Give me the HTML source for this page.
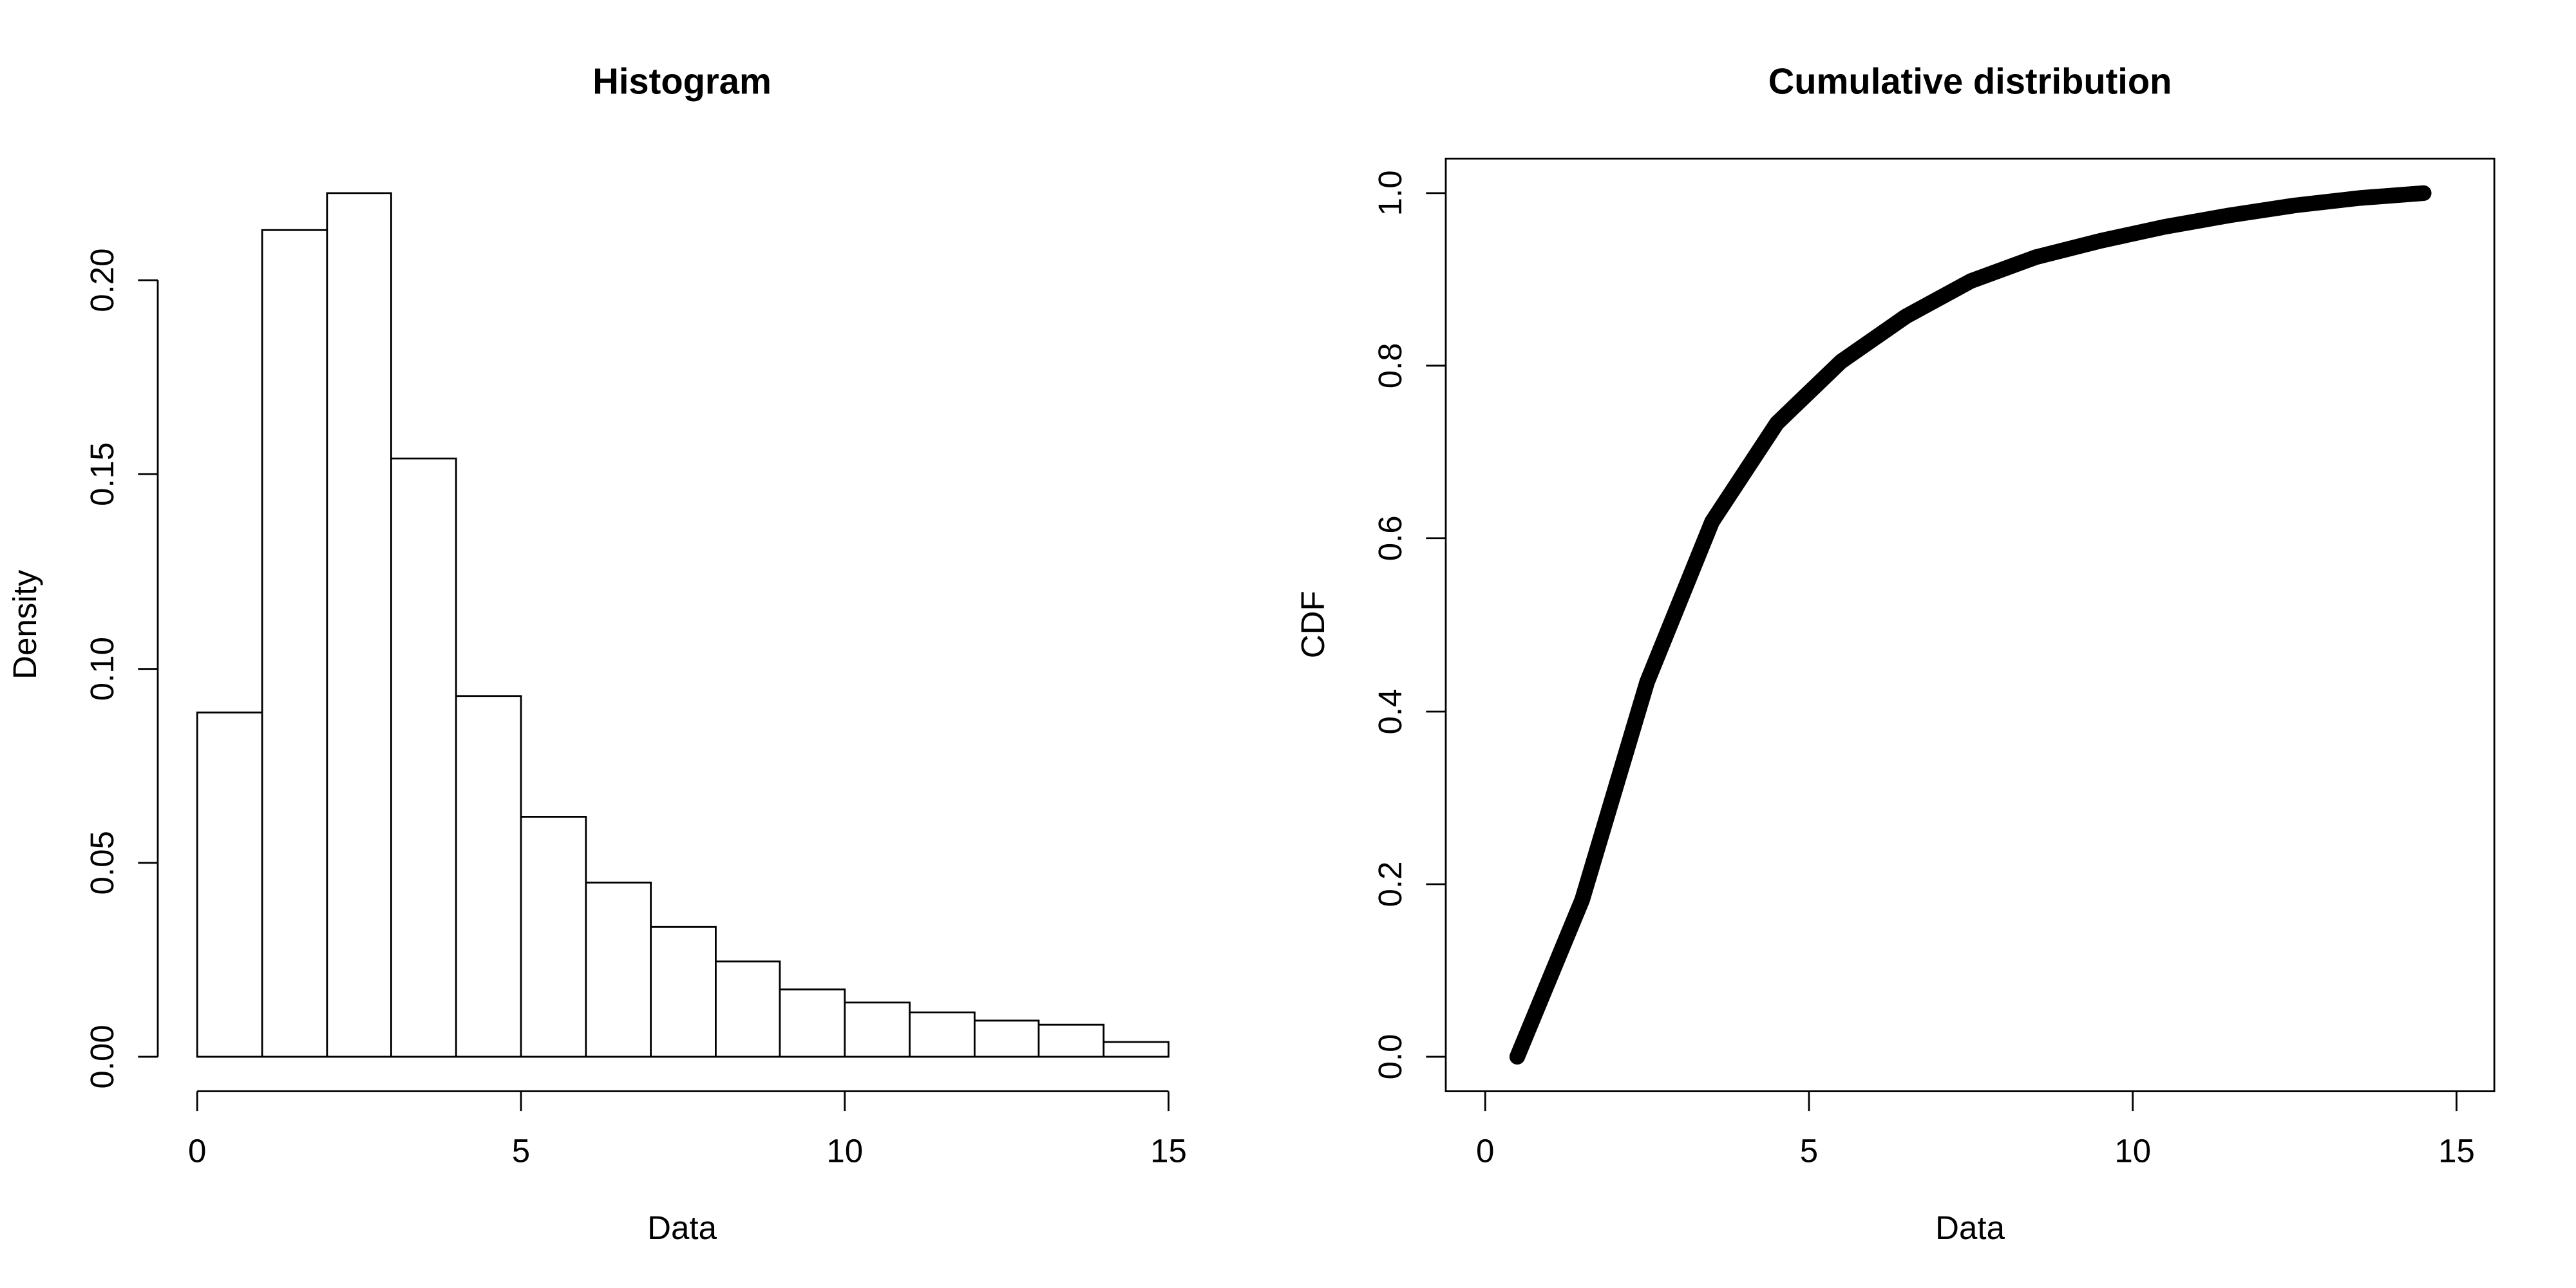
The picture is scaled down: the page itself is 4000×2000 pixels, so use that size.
<!DOCTYPE html>
<html><head><meta charset="utf-8"><style>
html,body{margin:0;padding:0;background:#fff;}
svg{display:block;}
text{font-family:"Liberation Sans",Arial,sans-serif;fill:#000;}
</style></head><body>
<svg width="4000" height="2000" viewBox="0 0 4000 2000" xmlns="http://www.w3.org/2000/svg">
<rect width="4000" height="2000" fill="#fff"/>
<g transform="scale(1.276)" stroke="#000" stroke-width="2.2" fill="none">
  <path fill="#fff" d="M240,1286V867H319V1286Z M319,1286V280H398V1286Z M398,1286V235H476V1286Z M476,1286V558H555V1286Z M555,1286V847H634V1286Z M634,1286V994H713V1286Z M713,1286V1074H792V1286Z M792,1286V1128H871V1286Z M871,1286V1170H949V1286Z M949,1286V1204H1028V1286Z M1028,1286V1220H1107V1286Z M1107,1286V1232H1186V1286Z M1186,1286V1242H1264V1286Z M1264,1286V1247H1343V1286Z M1343,1286V1268H1422V1286Z"/>
  <path d="M192,341V1286 M192,341H168 M192,577H168 M192,814H168 M192,1050H168 M192,1286H168"/>
  <path d="M240,1328H1422 M240,1328V1352 M634,1328V1352 M1028,1328V1352 M1422,1328V1352"/>
</g>
<g transform="scale(1.276)" font-size="40">
  <text x="830" y="114" text-anchor="middle" font-weight="bold" font-size="44">Histogram</text>
  <text x="240" y="1414" text-anchor="middle">0</text>
  <text x="634" y="1414" text-anchor="middle">5</text>
  <text x="1028" y="1414" text-anchor="middle">10</text>
  <text x="1422" y="1414" text-anchor="middle">15</text>
  <text x="830" y="1508" text-anchor="middle">Data</text>
  <text transform="translate(138,341) rotate(-90)" text-anchor="middle">0.20</text>
  <text transform="translate(138,577) rotate(-90)" text-anchor="middle">0.15</text>
  <text transform="translate(138,814) rotate(-90)" text-anchor="middle">0.10</text>
  <text transform="translate(138,1050) rotate(-90)" text-anchor="middle">0.05</text>
  <text transform="translate(138,1286) rotate(-90)" text-anchor="middle">0.00</text>
  <text transform="translate(44,760) rotate(-90)" text-anchor="middle">Density</text>
</g>
<g transform="translate(2000,0) scale(1.276)">
  <g stroke="#000" stroke-width="2.2" fill="none">
    <rect x="192" y="193" width="1276" height="1135"/>
    <path d="M192,235H168 M192,445H168 M192,655H168 M192,866H168 M192,1076H168 M192,1286H168"/>
    <path d="M240,1328V1352 M634,1328V1352 M1028,1328V1352 M1422,1328V1352"/>
    <polyline stroke-width="19" stroke-linecap="round" stroke-linejoin="round" points="279,1286 358,1095 437,830 516,635 595,515 673,440 752,385 831,342 910,313 989,293 1067,276 1146,262 1225,250 1304,241 1382,235"/>
  </g>
  <g font-size="40">
    <text x="830" y="114" text-anchor="middle" font-weight="bold" font-size="44">Cumulative distribution</text>
    <text x="240" y="1414" text-anchor="middle">0</text>
    <text x="634" y="1414" text-anchor="middle">5</text>
    <text x="1028" y="1414" text-anchor="middle">10</text>
    <text x="1422" y="1414" text-anchor="middle">15</text>
    <text x="830" y="1508" text-anchor="middle">Data</text>
    <text transform="translate(138,235) rotate(-90)" text-anchor="middle">1.0</text>
    <text transform="translate(138,445) rotate(-90)" text-anchor="middle">0.8</text>
    <text transform="translate(138,655) rotate(-90)" text-anchor="middle">0.6</text>
    <text transform="translate(138,866) rotate(-90)" text-anchor="middle">0.4</text>
    <text transform="translate(138,1076) rotate(-90)" text-anchor="middle">0.2</text>
    <text transform="translate(138,1286) rotate(-90)" text-anchor="middle">0.0</text>
    <text transform="translate(44,760) rotate(-90)" text-anchor="middle">CDF</text>
  </g>
</g>
</svg>
</body></html>
